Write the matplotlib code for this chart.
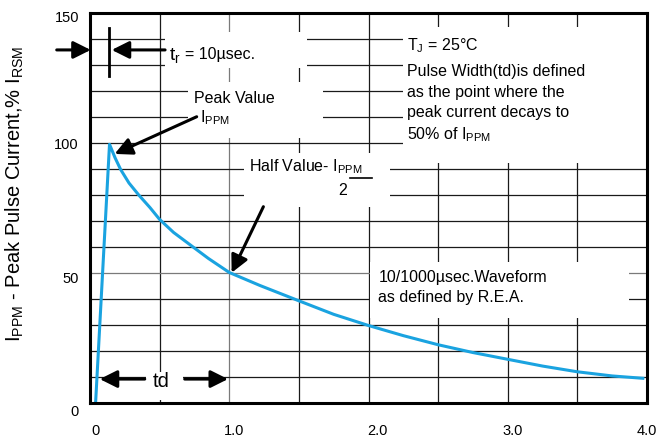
import numpy as np
import matplotlib
matplotlib.use('Agg')
import matplotlib.pyplot as plt
from matplotlib.patches import Rectangle
from matplotlib.transforms import ScaledTranslation

# 10/1000 usec waveform (time in ms, % of I_PPM)
t_ms = [0.04, 0.14, 0.18, 0.22, 0.28, 0.35, 0.43, 0.50, 0.60, 0.72, 0.85,
        1.00, 1.22, 1.50, 1.75, 2.00, 2.25, 2.50, 2.75, 3.00, 3.25, 3.50,
        3.75, 3.97]
i_pct = [0, 99.5, 94.3, 89.8, 84.6, 80.0, 75.2, 70.6, 65.6, 60.8, 55.6,
         50.2, 45.2, 39.3, 34.1, 29.8, 25.9, 22.4, 19.4, 16.8, 14.2, 12.0,
         10.4, 9.5]

x_ticks = [0, 1.0, 2.0, 3.0, 4.0]
x_labels = ['0', '1.0', '2.0', '3.0', '4.0']
y_ticks = [0, 50, 100, 150]
y_labels = ['0', '50', '100', '150']

plt.rcParams['font.family'] = ['Liberation Sans', 'DejaVu Sans']
plt.rcParams['mathtext.fontset'] = 'custom'
plt.rcParams['mathtext.rm'] = 'Liberation Sans'

fig = plt.figure(figsize=(6.58, 4.41), dpi=100)
ax = fig.add_axes([0.1368, 0.0862, 0.8465, 0.8843])
ax.set_xlim(0, 4)
ax.set_ylim(0, 150)

# grid (drawn by hand so some lines can be grey)
for gx in np.arange(0.5, 4.0, 0.5):
    ax.axvline(gx, color='#7a7a7a' if gx == 1.0 else '#1a1a1a', lw=0.9, zorder=1)
for gy in np.arange(10, 150, 10):
    ax.axhline(gy, color='#7a7a7a' if gy == 50 else '#1a1a1a', lw=0.9, zorder=1)

# white areas behind the notes, cutting the grid
boxes = [(0.539, 128.8, 1.558, 142.8),
         (0.704, 101.9, 1.673, 123.6),
         (2.248, 92.3, 3.99, 144.7),
         (1.106, 75.4, 2.154, 96.2),
         (2.011, 32.7, 3.871, 54.3),
         (0.40, 1.2, 0.67, 12.0)]
for x0, y0, x1, y1 in boxes:
    ax.add_patch(Rectangle((x0, y0), x1 - x0, y1 - y0, facecolor='white',
                           edgecolor='none', zorder=1.5))

ax.plot(t_ms, i_pct, color='#1aa3e0', lw=2.2, zorder=3, solid_joinstyle='round')

for s in ax.spines.values():
    s.set_linewidth(2.2)
    s.set_zorder(5)

ax.set_xticks(x_ticks)
ax.set_xticklabels(x_labels)
ax.set_yticks(y_ticks)
ax.set_yticklabels(y_labels)
ax.tick_params(axis='both', length=0, labelsize=10.5)
ax.tick_params(axis='x', pad=15)
ax.tick_params(axis='y', pad=8)
# the scanned labels sit a little off their ticks
x_shift = [5, 5, 9, 5, 0]
for lab, dx in zip(ax.get_xticklabels(), x_shift):
    lab.set_transform(lab.get_transform() + ScaledTranslation(dx / 100, 0, fig.dpi_scale_trans))
y_shift = [8, 5, 0, 3]
for lab, dy in zip(ax.get_yticklabels(), y_shift):
    lab.set_transform(lab.get_transform() + ScaledTranslation(0, -dy / 100, fig.dpi_scale_trans))

ax.set_ylabel(r'$\mathregular{I_{PPM}}$ - Peak Pulse Current,% $\mathregular{I_{RSM}}$',
              fontsize=14.5, va='center')
ax.yaxis.set_label_coords(-0.135, 0.537)

arrow = dict(arrowstyle='-|>,head_length=0.7,head_width=0.35', color='black',
             lw=2.2, mutation_scale=15, shrinkA=0, shrinkB=0)

# rise time marker
ax.annotate('', xy=(0.005, 135.8), xytext=(-0.239, 135.8), arrowprops=arrow, zorder=6)
ax.annotate('', xy=(0.156, 135.8), xytext=(0.539, 135.8), arrowprops=arrow, zorder=6)
ax.plot([0.139, 0.139], [125.8, 144.1], color='black', lw=2, zorder=6)
ax.text(0.567, 132.0, r'$\mathregular{t_r}$', fontsize=14, va='baseline', zorder=6)
ax.text(0.682, 132.2, '= 10µsec.', fontsize=11.5, va='baseline', zorder=6)

# peak value
ax.text(0.749, 115.5, 'Peak Value', fontsize=11.5, va='baseline', zorder=6)
ax.text(0.79, 107.8, r'$\mathregular{I_{PPM}}$', fontsize=11.5, va='baseline', zorder=6)
ax.annotate('', xy=(0.177, 95.8), xytext=(0.766, 110.1), arrowprops=arrow, zorder=6)

# half value
ax.text(1.144, 89.0, r'Half Value- $\mathregular{I_{PPM}}$', fontsize=11.5,
        va='baseline', zorder=6)
ax.plot([1.867, 2.025], [86.4, 86.4], color='black', lw=1.2, zorder=6)
ax.text(1.812, 80.0, '2', fontsize=11.5, ha='center', va='baseline', zorder=6)
ax.annotate('', xy=(1.017, 50.1), xytext=(1.245, 75.5), arrowprops=arrow, zorder=6)

# conditions
notes = [r'$\mathregular{T_J}$ = 25°C',
         'Pulse Width(td)is defined',
         'as the point where the',
         'peak current decays to',
         r'50% of $\mathregular{I_{PPM}}$']
note_y = [135.5, 125.8, 117.8, 109.9, 101.4]
for txt, yy in zip(notes, note_y):
    ax.text(2.279, yy, txt, fontsize=11.5, va='baseline', zorder=6)

ax.text(2.07, 46.65, '10/1000µsec.Waveform', fontsize=11.5, va='baseline', zorder=6)
ax.text(2.07, 38.7, 'as defined by R.E.A.', fontsize=11.5, va='baseline', zorder=6)

# pulse width
ax.annotate('', xy=(0.07, 9.2), xytext=(0.393, 9.2), arrowprops=arrow, zorder=6)
ax.annotate('', xy=(0.991, 9.2), xytext=(0.68, 9.2), arrowprops=arrow, zorder=6)
ax.text(0.512, 6.3, 'td', fontsize=14.5, ha='center', va='baseline', zorder=6)

fig.savefig('out.png', dpi=100)
